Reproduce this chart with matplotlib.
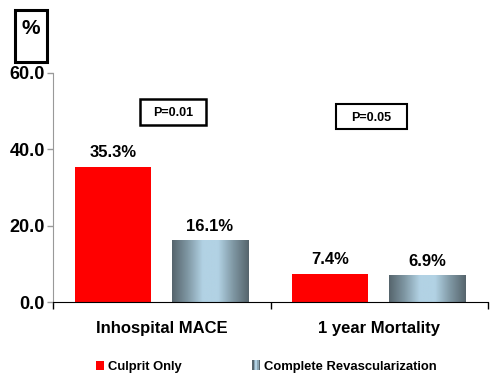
import numpy as np
import matplotlib
matplotlib.use('Agg')
import matplotlib.pyplot as plt
from matplotlib.patches import Rectangle
from matplotlib.colors import LinearSegmentedColormap
from matplotlib.legend_handler import HandlerBase

plt.rcParams['font.family'] = ['Liberation Sans', 'DejaVu Sans']
plt.rcParams['font.weight'] = 'bold'

categories = ['Inhospital MACE', '1 year Mortality']
series = ['Culprit Only', 'Complete Revascularization']
culprit = [35.3, 7.4]
complete = [16.1, 6.9]
pvals = ['P=0.01', 'P=0.05']
yticks = [0, 20, 40, 60]

grad = LinearSegmentedColormap.from_list('g', ['#56656d', '#7f97a3', '#b2d2e4', '#b2d2e4', '#7f97a3', '#56656d'])

fig = plt.figure(figsize=(5, 3.86), dpi=100)
ax = fig.add_axes([0.106, 0.2176, 0.87, 0.5934])

x = np.arange(len(categories))
w = 0.35
ax.bar(x + 0.275, culprit, w, color='#ff0000', zorder=2)
bars = ax.bar(x + 0.72, complete, w, color='none', zorder=2)
gx = np.linspace(0, 1, 200).reshape(1, -1)
for b in bars:
    bx, bw, bh = b.get_x(), b.get_width(), b.get_height()
    ax.imshow(gx, cmap=grad, aspect='auto', extent=[bx, bx + bw, 0, bh], zorder=2)

for i in range(len(categories)):
    ax.annotate('%.1f%%' % culprit[i], (x[i] + 0.275, culprit[i]), xytext=(0, 5),
                textcoords='offset points', ha='center', va='bottom', fontsize=12, fontweight='bold')
    ax.annotate('%.1f%%' % complete[i], (x[i] + 0.72, complete[i]), xytext=(0, 5),
                textcoords='offset points', ha='center', va='bottom', fontsize=12, fontweight='bold')

ax.set_xlim(0, 2)
ax.set_ylim(0, 60)
ax.set_yticks(yticks)
ax.set_yticklabels(['%.1f' % t for t in yticks], fontsize=13, fontweight='bold')
ax.set_xticks([0, 1, 2])
ax.set_xticklabels([])
ax.set_xticks([0.5, 1.5], minor=True)
ax.set_xticklabels(categories, minor=True, fontsize=12, fontweight='bold')
ax.tick_params(axis='x', which='minor', length=0, pad=14)
ax.tick_params(axis='x', which='major', length=5, width=1, color='black')
ax.tick_params(axis='y', length=4, width=1, color='#999999', pad=2)
for s in ['top', 'right']:
    ax.spines[s].set_visible(False)
ax.spines['left'].set_color('#999999')
ax.spines['bottom'].set_color('black')

# boxes
def fbox(x0, y0, x1, y1, lw):
    fig.patches.append(Rectangle((x0 / 500, 1 - y1 / 386), (x1 - x0) / 500, (y1 - y0) / 386,
                                 transform=fig.transFigure, fill=False, edgecolor='black', linewidth=lw))

fbox(15, 10, 47, 62, 2.2)
fig.text(31 / 500, 1 - 28 / 386, '%', ha='center', va='center', fontsize=15, fontweight='bold')
fbox(140, 99, 206, 125, 1.8)
fig.text(173 / 500, 1 - 113 / 386, pvals[0], ha='center', va='center', fontsize=9, fontweight='bold')
fbox(336, 104, 407, 129, 1.5)
fig.text(371 / 500, 1 - 118 / 386, pvals[1], ha='center', va='center', fontsize=9, fontweight='bold')

class GradHandler(HandlerBase):
    def create_artists(self, legend, orig, xd, yd, width, height, fontsize, trans):
        cols = ['#56656d', '#8aa6b4', '#b2d2e4', '#8aa6b4', '#56656d']
        n = len(cols)
        return [Rectangle((xd + width * k / n, yd), width / n, height, facecolor=c,
                          edgecolor='none', transform=trans) for k, c in enumerate(cols)]

h1 = Rectangle((0, 0), 1, 1, facecolor='#ff0000')
h2 = Rectangle((0, 0), 1, 1, facecolor='#8aa6b4')
fig.legend([h1, h2], series, loc='center', bbox_to_anchor=(0.532, 0.049), ncol=2,
           frameon=False, prop={'size': 9.4, 'weight': 'bold'}, handlelength=0.65, handleheight=0.75,
           handletextpad=0.25, columnspacing=5.4, handler_map={h2: GradHandler()})

fig.savefig('out.png', dpi=100)
